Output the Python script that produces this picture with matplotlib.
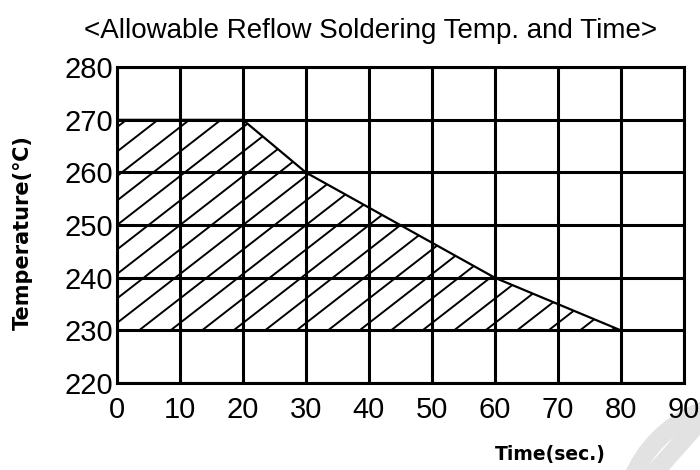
import numpy as np
import matplotlib.pyplot as plt
from matplotlib.patches import Polygon, Ellipse
from matplotlib.lines import Line2D

# allowable reflow profile (upper limit), lower limit is flat
time_s = [0, 20, 30, 60, 80]
temp_max = [270, 270, 260, 240, 230]
temp_min = 230

x_ticks = [0, 10, 20, 30, 40, 50, 60, 70, 80, 90]
y_ticks = [220, 230, 240, 250, 260, 270, 280]

fig = plt.figure(figsize=(7, 4.7), dpi=100)
ax = fig.add_axes([0.167, 0.185, 0.81, 0.672])

# hatched region
verts = list(zip(time_s, temp_max)) + [(time_s[-1], temp_min), (time_s[0], temp_min)]
region = Polygon(verts, closed=True, facecolor='none', edgecolor='none')
ax.add_patch(region)

# diagonal hatch lines, clipped to region
slope = 0.93
for c in np.arange(-1.5 - 50, time_s[-1] + 5, 5.0):
    xs = np.array([c, c + 60])
    ln, = ax.plot(xs, temp_min + slope * (xs - c), color='black', lw=1.4, zorder=2)
    ln.set_clip_path(region)

# upper limit curve
ax.plot(time_s, temp_max, color='black', lw=1.6, zorder=3)

ax.set_xlim(x_ticks[0], x_ticks[-1])
ax.set_ylim(y_ticks[0], y_ticks[-1])
ax.set_xticks(x_ticks)
ax.set_yticks(y_ticks)
ax.grid(True, color='black', lw=2.2, zorder=1)
ax.set_axisbelow(True)
for s in ax.spines.values():
    s.set_linewidth(2.2)
ax.tick_params(length=0, labelsize=21, pad=3)
ax.tick_params(axis='x', pad=9)
for lab in ax.get_xticklabels() + ax.get_yticklabels():
    lab.set_family('Liberation Sans')

fig.text(0.033, 0.506, 'Temperature(℃)', rotation=90, ha='center', va='center',
         fontsize=15, fontweight='bold', family=['DejaVu Sans'])
fig.text(0.786, 0.032, 'Time(sec.)', ha='center', va='center',
         fontsize=13.5, fontweight='bold', family=['DejaVu Sans'])
fig.text(0.53, 0.934, '<Allowable Reflow Soldering Temp. and Time>', ha='center', va='center',
         fontsize=20, family=['Liberation Sans'])

# faint watermark at bottom right
fig.patches.append(Ellipse((745 / 700, 1 - 525 / 470), 2 * 122 / 700, 2 * 122 / 470,
                           transform=fig.transFigure, facecolor='none',
                           edgecolor='#e2e2e2', lw=13, zorder=-1))
fig.lines.append(Line2D([655 / 700, 710 / 700], [1 - 472 / 470, 1 - 410 / 470],
                        transform=fig.transFigure, color='#e2e2e2', lw=13, zorder=-1))

fig.savefig('out.png', dpi=100)
